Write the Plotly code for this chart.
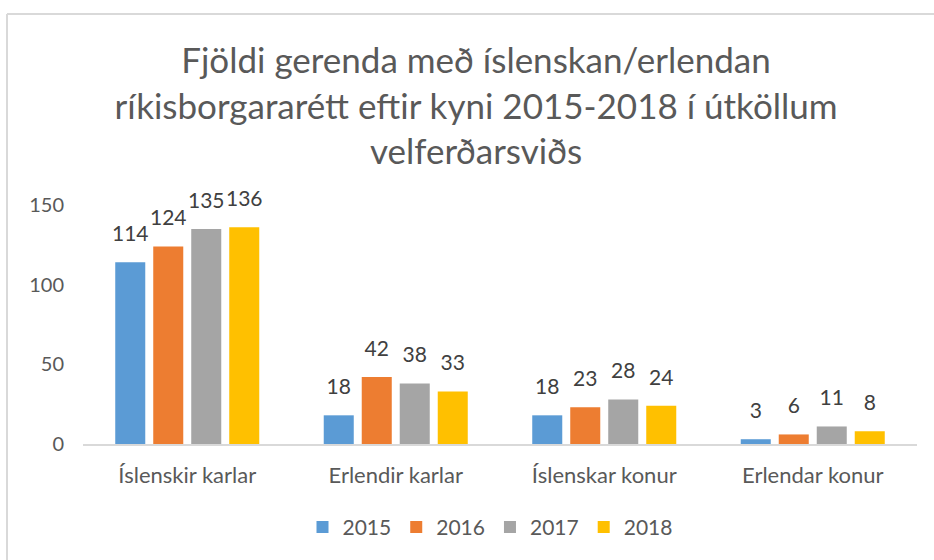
import plotly.graph_objects as go

categories = ["Íslenskir karlar", "Erlendir karlar", "Íslenskar konur", "Erlendar konur"]
years = ["2015", "2016", "2017", "2018"]
v2015 = [114, 18, 18, 3]
v2016 = [124, 42, 23, 6]
v2017 = [135, 38, 28, 11]
v2018 = [136, 33, 24, 8]
series = [v2015, v2016, v2017, v2018]
colors = ["#5B9BD5", "#ED7D31", "#A5A5A5", "#FFC000"]
title_text = "Fjöldi gerenda með íslenskan/erlendan<br>ríkisborgararétt eftir kyni 2015-2018 í útköllum<br>velferðarsviðs"

FONT = "Lato"
W, H = 934, 560
L, R, T, B = 83, 917, 205, 446

fig = go.Figure()
for i, (name, vals, col) in enumerate(zip(years, series, colors)):
    fig.add_trace(go.Bar(
        x=categories, y=vals, name=name, marker_color=col,
        marker_line_width=0, offsetgroup=str(i),
    ))
for i, (name, vals) in enumerate(zip(years, series)):
    fig.add_trace(go.Scatter(
        x=categories, y=vals, mode="markers+text", showlegend=False,
        offsetgroup=str(i),
        marker=dict(size=24, opacity=0), hoverinfo="skip",
        text=[str(v) for v in vals], textposition="top center",
        textfont=dict(family=FONT, size=21, color="#404040"),
        cliponaxis=False,
    ))

def px_x(p):
    return (p - L) / (R - L)

def px_y(p):
    return (B - p) / (B - T)

fig.update_layout(
    width=W, height=H,
    margin=dict(l=L, r=W - R, t=T, b=H - B, pad=0),
    paper_bgcolor="white", plot_bgcolor="white",
    barmode="group", bargap=0.271, bargroupgap=0.21,
    scattermode="group", scattergap=0.271,
    font=dict(family=FONT, color="#595959"),
    title=dict(text=title_text, x=476 / W, xanchor="center", xref="container",
               y=1 - 73 / H, yanchor="top", yref="container",
               font=dict(family=FONT, size=35, color="#595959")),
    showlegend=True,
    legend=dict(orientation="h", x=px_x(490), xanchor="center", y=px_y(530), yanchor="middle",
                font=dict(family=FONT, size=21, color="#595959"),
                itemwidth=30, tracegroupgap=0, traceorder="normal"),
    xaxis=dict(showline=True, linecolor="#D9D9D9", linewidth=2, showgrid=False,
               ticks="", tickfont=dict(family=FONT, size=22, color="#595959"),
               ticklabelstandoff=11, fixedrange=True),
    yaxis=dict(range=[0, 150], tickvals=[0, 50, 100, 150], showgrid=False, zeroline=False,
               showline=False, ticks="", tickfont=dict(family=FONT, size=20, color="#595959"),
               ticklabelstandoff=18, fixedrange=True),
    shapes=[
        dict(type="line", xref="paper", yref="paper", x0=px_x(7), x1=px_x(W + 10),
             y0=px_y(12.5), y1=px_y(12.5), line=dict(color="#D9D9D9", width=2)),
        dict(type="line", xref="paper", yref="paper", x0=px_x(7), x1=px_x(7),
             y0=px_y(12.5), y1=px_y(H + 10), line=dict(color="#D9D9D9", width=2)),
    ],
)

fig.write_html("out.html", config={"displayModeBar": False},
               post_script="document.body.style.margin='0';document.body.style.overflow='hidden';")
